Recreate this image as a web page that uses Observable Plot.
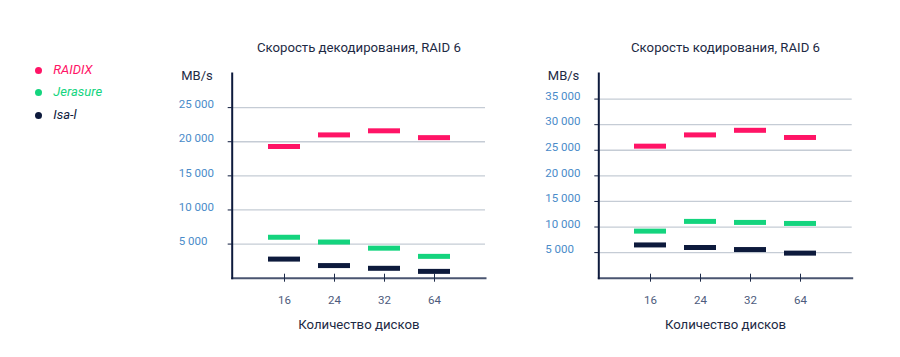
<!DOCTYPE html>
<html>
<head>
<meta charset="utf-8">
<script src="https://cdn.jsdelivr.net/npm/d3@7"></script>
<script src="https://cdn.jsdelivr.net/npm/@observablehq/plot@0.6"></script>
<style>
  html, body { margin: 0; padding: 0; background: #fff; }
  #root { position: relative; width: 900px; height: 357px; overflow: hidden; font-family: Roboto, sans-serif; }
  .plot { position: absolute; }
  .legend-dot { position: absolute; width: 7px; height: 7px; border-radius: 50%; }
  .legend-label { position: absolute; font-style: italic; font-size: 13px; white-space: nowrap; }
</style>
</head>
<body>
<div id="root"></div>
<script>
// ---- Data ----
const disks = ["16", "24", "32", "64"];
const seriesNames = ["RAIDIX", "Jerasure", "Isa-l"];
const seriesColors = ["#ff1466", "#14d47e", "#0d1a3c"];

const decodeRaidix   = [19300, 21000, 21600, 20600];
const decodeJerasure = [6000, 5300, 4400, 3200];
const decodeIsal     = [2800, 1850, 1450, 1000];

const encodeRaidix   = [25800, 28000, 28900, 27500];
const encodeJerasure = [9200, 11100, 10900, 10700];
const encodeIsal     = [6500, 6000, 5600, 4900];

const decodeTicks = [5000, 10000, 15000, 20000, 25000];
const encodeTicks = [5000, 10000, 15000, 20000, 25000, 30000, 35000];

const titleDecode = "Скорость декодирования, RAID 6";
const titleEncode = "Скорость кодирования, RAID 6";
const xLabel = "Количество дисков";
const yUnit = "MB/s";

const fmt = d => d3.format(",")(d).replace(/,/g, " ");

function chart({title, series, yTicks, yMax, width, marginLeft, marginRight}) {
  const marks = [
    Plot.gridY(yTicks, {stroke: "#c5ccd5", strokeOpacity: 1, strokeWidth: 1.3}),
    Plot.frame({anchor: "bottom", stroke: "#4a5570", strokeWidth: 2}),
    Plot.frame({anchor: "left", stroke: "#0d1a3c", strokeWidth: 2}),
    Plot.axisY(yTicks, {tickSize: 4, tickFormat: () => "", stroke: "#0d1a3c"}),
    Plot.axisY(yTicks, {tickSize: 0, tickPadding: 0, dx: -53.5, dy: -3, textAnchor: "start",
      tickFormat: fmt, fill: "#4a8bc9", fontSize: 11.5}),
    Plot.axisX({tickSize: 8, dy: -4, tickFormat: () => "", stroke: "#1d2b4a"}),
    Plot.axisX({tickSize: 0, tickPadding: 18, fill: "#4d5b7c", fontSize: 11.5, label: null}),
    Plot.text([title], {frameAnchor: "top", dy: -31, fontSize: 13.2, fill: "#1d2a44"}),
    Plot.text([yUnit], {frameAnchor: "top-left", dx: -51, dy: -3, textAnchor: "start", fontSize: 13, fill: "#1d2a44"}),
    Plot.text([xLabel], {frameAnchor: "bottom", dy: 51, fontSize: 13.2, fill: "#1d2a44"})
  ];
  series.forEach((vals, s) => {
    marks.push(Plot.tickY(vals, {x: (d, i) => disks[i], y: d => d, stroke: seriesColors[s], strokeWidth: 5}));
  });
  return Plot.plot({
    width, height: 310,
    marginLeft, marginRight, marginTop: 43, marginBottom: 62.3,
    style: {fontFamily: "Roboto, sans-serif", background: "transparent", overflow: "visible"},
    x: {type: "band", domain: disks, paddingInner: 0.368, paddingOuter: 0.684, axis: null, label: null},
    y: {domain: [0, yMax], axis: null, label: null},
    marks
  });
}

const root = document.getElementById("root");

const left = chart({title: titleDecode, series: [decodeRaidix, decodeJerasure, decodeIsal],
  yTicks: decodeTicks, yMax: 30000, width: 340, marginLeft: 71.7, marginRight: 15});
left.classList.add("plot");
left.style.left = "160px"; left.style.top = "30px";
root.appendChild(left);

const right = chart({title: titleEncode, series: [encodeRaidix, encodeJerasure, encodeIsal],
  yTicks: encodeTicks, yMax: 40000, width: 345, marginLeft: 78.3, marginRight: 13.3});
right.classList.add("plot");
right.style.left = "520px"; right.style.top = "30px";
root.appendChild(right);

// Legend
const legendY = [70, 92.3, 115];
seriesNames.forEach((name, i) => {
  const dot = document.createElement("div");
  dot.className = "legend-dot";
  dot.style.background = seriesColors[i];
  dot.style.left = (38 - 3.5) + "px";
  dot.style.top = (legendY[i] - 3.5) + "px";
  root.appendChild(dot);
  const lab = document.createElement("div");
  lab.className = "legend-label";
  lab.textContent = name;
  lab.style.color = seriesColors[i];
  lab.style.left = "53.3px";
  lab.style.top = (legendY[i] - 8) + "px";
  lab.style.lineHeight = "16px";
  root.appendChild(lab);
});
</script>
</body>
</html>
